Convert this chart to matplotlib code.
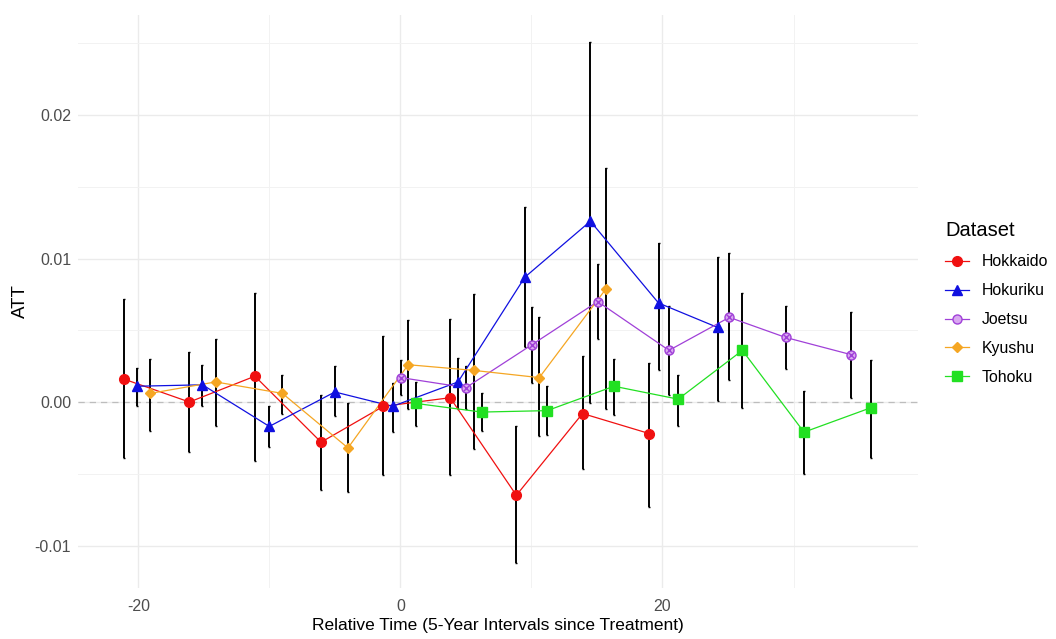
import numpy as np
import matplotlib
matplotlib.use("Agg")
import matplotlib.pyplot as plt
from matplotlib.lines import Line2D

# relative time (dodged a bit per dataset), estimate and CI bounds
hokkaido_x = [-21.1, -16.1, -11.1, -6.05, -1.3, 3.8, 8.85, 13.9, 19.0]
hokkaido_att = [0.0016, 0.0000, 0.0018, -0.0028, -0.0003, 0.0003, -0.0065, -0.0008, -0.0022]
hokkaido_lo = [-0.0039, -0.0035, -0.0041, -0.0061, -0.0051, -0.0051, -0.0112, -0.0047, -0.0073]
hokkaido_hi = [0.0072, 0.0035, 0.0076, 0.0005, 0.0046, 0.0058, -0.0017, 0.0032, 0.0027]

hokuriku_x = [-20.1, -15.1, -10.0, -5.0, -0.6, 4.4, 9.5, 14.5, 19.7, 24.2]
hokuriku_att = [0.0011, 0.0012, -0.0017, 0.0007, -0.0003, 0.0014, 0.0087, 0.0126, 0.0069, 0.0052]
hokuriku_lo = [-0.0003, -0.0003, -0.0031, -0.0010, -0.0021, -0.0005, 0.0038, -0.0001, 0.0022, 0.0001]
hokuriku_hi = [0.0024, 0.0026, -0.0003, 0.0025, 0.0013, 0.0031, 0.0136, 0.0251, 0.0111, 0.0101]

joetsu_x = [0.05, 5.0, 10.05, 15.06, 20.5, 25.1, 29.4, 34.4]
joetsu_att = [0.0017, 0.0010, 0.0040, 0.0070, 0.0036, 0.0059, 0.0045, 0.0033]
joetsu_lo = [0.0005, -0.0005, 0.0013, 0.0044, 0.0005, 0.0015, 0.0023, 0.0003]
joetsu_hi = [0.0029, 0.0025, 0.0066, 0.0096, 0.0067, 0.0104, 0.0067, 0.0063]

kyushu_x = [-19.1, -14.1, -9.0, -4.0, 0.6, 5.65, 10.6, 15.7]
kyushu_att = [0.0006, 0.0014, 0.0006, -0.0032, 0.0026, 0.0022, 0.0017, 0.0079]
kyushu_lo = [-0.0020, -0.0017, -0.0008, -0.0063, -0.0005, -0.0033, -0.0024, -0.0005]
kyushu_hi = [0.0030, 0.0044, 0.0019, -0.0001, 0.0057, 0.0075, 0.0059, 0.0163]

tohoku_x = [1.2, 6.2, 11.2, 16.3, 21.2, 26.1, 30.8, 35.9]
tohoku_att = [-0.0001, -0.0007, -0.0006, 0.0011, 0.0002, 0.0036, -0.0021, -0.0004]
tohoku_lo = [-0.0017, -0.0020, -0.0023, -0.0009, -0.0017, -0.0004, -0.0050, -0.0039]
tohoku_hi = [0.0014, 0.0006, 0.0011, 0.0030, 0.0019, 0.0076, 0.0008, 0.0029]

x_ticks = [-20, 0, 20]
y_ticks = [-0.01, 0.00, 0.01, 0.02]
y_tick_labels = ["-0.01", "0.00", "0.01", "0.02"]


def drawSeries(ax, x, att, lo, hi, color, marker, ms):
	x = np.array(x)
	att = np.array(att)
	yerr = [att - np.array(lo), np.array(hi) - att]
	ax.errorbar(x, att, yerr=yerr, fmt="none", ecolor="black", elinewidth=1.4,
		capsize=1, capthick=1.0, zorder=3)
	ax.plot(x, att, color=color, lw=0.9, zorder=4)
	if marker == "joetsu":
		ax.plot(x, att, ls="none", marker="o", ms=ms, mfc="#D9A8F0", mec=color, mew=1.0, zorder=5)
		ax.plot(x, att, ls="none", marker="x", ms=ms * 0.7, mec=color, mew=1.0, zorder=6)
	else:
		ax.plot(x, att, ls="none", marker=marker, ms=ms, color=color, zorder=5)


if __name__ == "__main__":

	plt.rcParams["font.family"] = ["Liberation Sans", "DejaVu Sans"]

	fig = plt.figure(figsize=(10.56, 6.39), dpi=100)
	ax = fig.add_axes([78 / 1056, 1 - 588 / 639, 840 / 1056, 573 / 639])

	for s in ax.spines.values():
		s.set_visible(False)

	ax.set_xlim(-24.6, 39.5)
	ax.set_ylim(-0.01296, 0.02697)
	ax.set_xticks(x_ticks)
	ax.set_xticklabels([str(t) for t in x_ticks])
	ax.set_yticks(y_ticks)
	ax.set_yticklabels(y_tick_labels)
	ax.set_xticks([-10, 10, 30], minor=True)
	ax.set_yticks([-0.005, 0.005, 0.015, 0.025], minor=True)
	ax.grid(True, which="major", color="#EBEBEB", lw=1.0)
	ax.grid(True, which="minor", color="#F2F2F2", lw=0.7)
	ax.set_axisbelow(True)
	ax.tick_params(which="both", length=0, labelsize=11.5, labelcolor="#4D4D4D")
	ax.tick_params(axis="x", pad=8)
	ax.tick_params(axis="y", pad=5)

	ax.axhline(0, color="#BDBDBD", ls=(0, (5, 4)), lw=0.9, zorder=2)

	drawSeries(ax, hokkaido_x, hokkaido_att, hokkaido_lo, hokkaido_hi, "#F01010", "o", 7)
	drawSeries(ax, hokuriku_x, hokuriku_att, hokuriku_lo, hokuriku_hi, "#1010E0", "^", 7.5)
	drawSeries(ax, joetsu_x, joetsu_att, joetsu_lo, joetsu_hi, "#A040D8", "joetsu", 6.5)
	drawSeries(ax, kyushu_x, kyushu_att, kyushu_lo, kyushu_hi, "#F5A623", "D", 5)
	drawSeries(ax, tohoku_x, tohoku_att, tohoku_lo, tohoku_hi, "#22E022", "s", 6.5)

	ax.set_xlabel("Relative Time (5-Year Intervals since Treatment)", fontsize=12.5, labelpad=3)
	ax.set_ylabel("ATT", fontsize=13.5, labelpad=4)

	handles = [
		Line2D([], [], color="#F01010", marker="o", ms=7, lw=0.9),
		Line2D([], [], color="#1010E0", marker="^", ms=7.5, lw=0.9),
		Line2D([], [], color="#A040D8", marker="o", ms=6.5, mfc="#D9A8F0", mec="#A040D8", lw=0.9),
		Line2D([], [], color="#F5A623", marker="D", ms=5, lw=0.9),
		Line2D([], [], color="#22E022", marker="s", ms=6.5, lw=0.9),
	]
	labels = ["Hokkaido", "Hokuriku", "Joetsu", "Kyushu", "Tohoku"]
	leg = fig.legend(handles, labels, title="Dataset", loc="upper left",
		bbox_to_anchor=(931 / 1056, 1 - 207 / 639), frameon=False, fontsize=11.4,
		title_fontsize=14.5, handlelength=1.5, handletextpad=0.8, labelspacing=0.88,
		alignment="left")

	fig.savefig("out.png", dpi=100)
